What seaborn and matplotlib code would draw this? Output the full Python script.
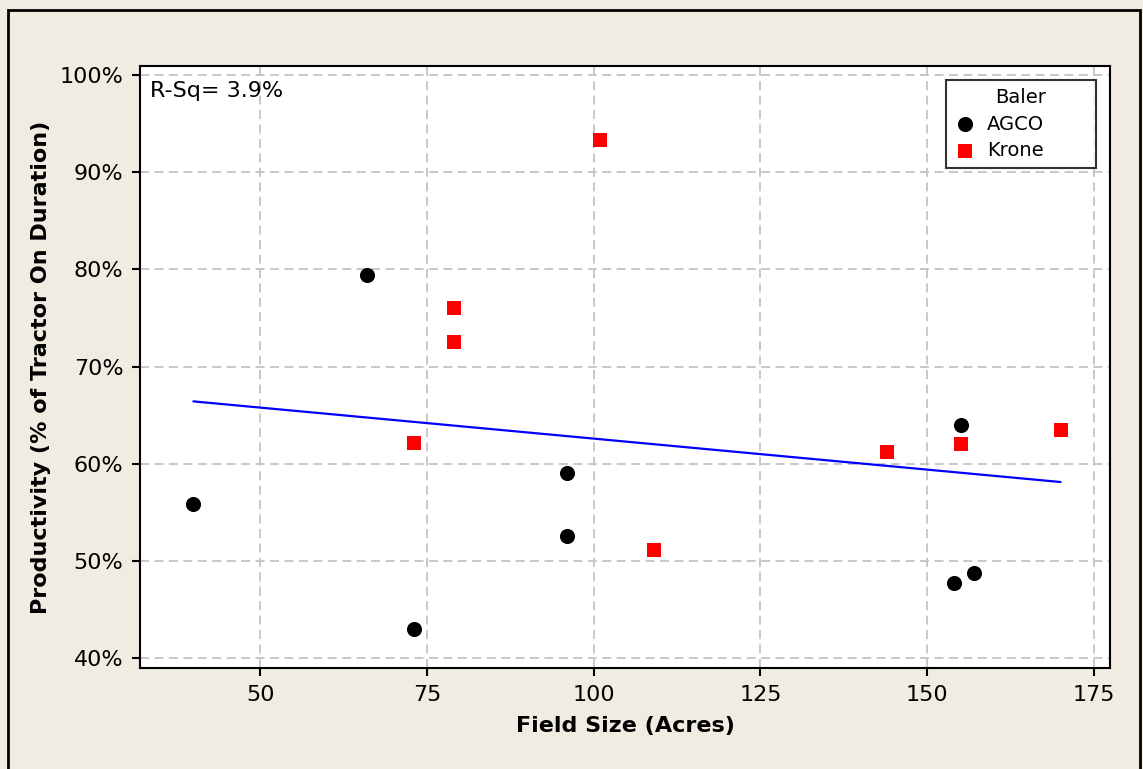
import matplotlib
matplotlib.use("Agg")
import matplotlib.pyplot as plt
import seaborn as sns
import pandas as pd
from matplotlib.patches import Rectangle
from matplotlib.ticker import FuncFormatter

# Data
agco_size = [40, 66, 73, 96, 96, 155, 154, 157]
agco_prod = [55.8, 79.4, 43.0, 59.0, 52.6, 64.0, 47.7, 48.7]
krone_size = [101, 79, 79, 73, 109, 144, 155, 170]
krone_prod = [93.3, 76.0, 72.5, 62.1, 51.1, 61.2, 62.0, 63.5]
x_ticks = [50, 75, 100, 125, 150, 175]
y_ticks = [40, 50, 60, 70, 80, 90, 100]
rsq_text = "R-Sq= 3.9%"

df = pd.DataFrame({
    "Field Size (Acres)": agco_size + krone_size,
    "Productivity": agco_prod + krone_prod,
    "Baler": ["AGCO"] * len(agco_size) + ["Krone"] * len(krone_size),
})

sns.set_style("white")
plt.rcParams["font.family"] = ["DejaVu Sans"]
plt.rcParams["text.color"] = "black"
plt.rcParams["axes.labelcolor"] = "black"

bg = "#F0ECE2"
fig = plt.figure(figsize=(11.43, 7.69), dpi=100, facecolor=bg)
ax = fig.add_axes([140 / 1143, 1 - 668 / 769, (1110 - 140) / 1143, (668 - 66) / 769])
ax.set_facecolor("white")

# outer frame
fig.patches.append(Rectangle((8 / 1143, -0.05), (1140 - 8) / 1143, 1 - 10 / 769 + 0.05,
                             transform=fig.transFigure, fill=False,
                             edgecolor="black", linewidth=2, zorder=0))

sns.regplot(data=df, x="Field Size (Acres)", y="Productivity", scatter=False,
            ci=None, color="blue", line_kws={"linewidth": 1.6, "zorder": 2}, ax=ax)

agco = df[df["Baler"] == "AGCO"]
krone = df[df["Baler"] == "Krone"]
sns.scatterplot(data=agco, x="Field Size (Acres)", y="Productivity", color="black",
                marker="o", s=118, linewidth=0, ax=ax, label="AGCO", zorder=3)
sns.scatterplot(data=krone, x="Field Size (Acres)", y="Productivity", color="red",
                marker="s", s=92, linewidth=0, ax=ax, label="Krone", zorder=3)

ax.set_xlim(32.0, 177.4)
ax.set_ylim(38.97, 100.93)
ax.set_xticks(x_ticks)
ax.set_yticks(y_ticks)
ax.yaxis.set_major_formatter(FuncFormatter(lambda v, p: f"{v:.0f}%"))

ax.grid(True, color="#C4C4C4", linestyle=(0, (5, 3)), linewidth=1.3, zorder=0)
ax.set_axisbelow(True)
for sp in ax.spines.values():
    sp.set_visible(True)
    sp.set_color("black")
    sp.set_linewidth(1.5)

ax.tick_params(axis="both", which="major", direction="out", length=6, width=1.5,
               color="black", labelsize=16, pad=6, labelcolor="black")
ax.tick_params(left=True, bottom=True)

ax.set_xlabel("Field Size (Acres)", fontsize=16, fontweight="bold", labelpad=8,
              color="black")
ax.set_ylabel("Productivity (% of Tractor On Duration)", fontsize=16,
              fontweight="bold", labelpad=6, color="black")

ax.text(0.010, 0.975, rsq_text, transform=ax.transAxes, fontsize=16,
        ha="left", va="top", color="black")

leg_x0 = (946 - 140) / 970
leg_x1 = (1096 - 140) / 970
leg_y1 = (668 - 80) / 602
leg_y0 = (668 - 170) / 602
leg = ax.legend(title="Baler", loc="upper right",
                bbox_to_anchor=(leg_x0, leg_y0, leg_x1 - leg_x0, leg_y1 - leg_y0),
                mode="expand", borderaxespad=0, frameon=True, fancybox=False,
                edgecolor="black", fontsize=14, title_fontsize=14, borderpad=0.4,
                handletextpad=0.5, labelspacing=0.4, markerscale=1.0,
                handlelength=1.2)
leg.get_frame().set_linewidth(1.5)
leg.get_title().set_color("black")
for t in leg.get_texts():
    t.set_color("black")

fig.savefig("out.png", dpi=100, facecolor=bg)
